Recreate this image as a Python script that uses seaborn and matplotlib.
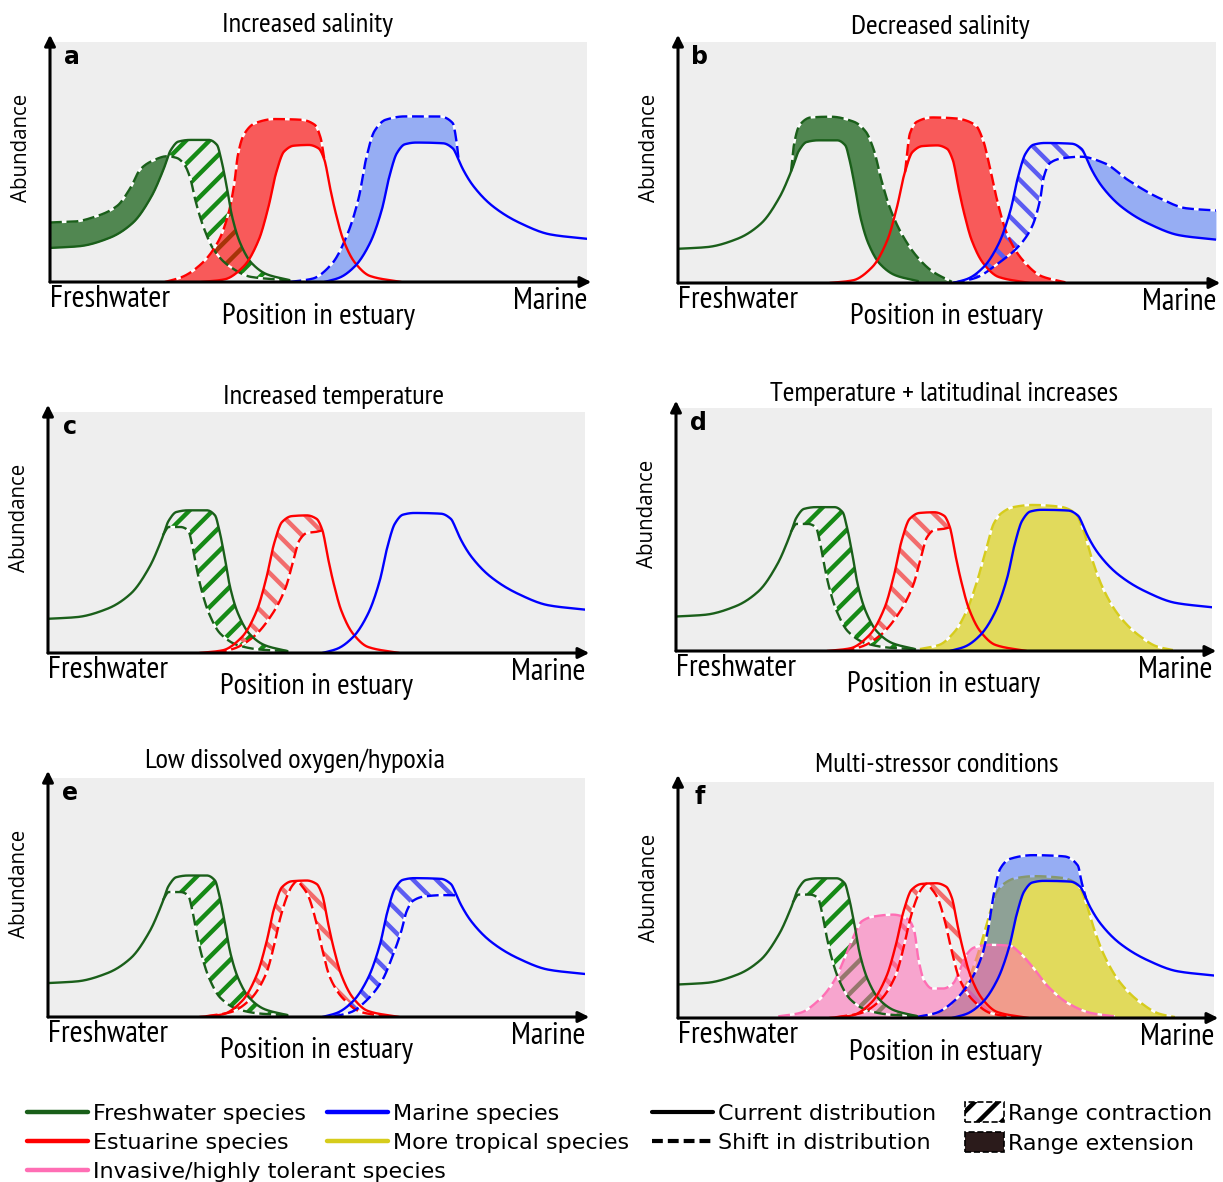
import numpy as np
import matplotlib
matplotlib.use('Agg')
import matplotlib.pyplot as plt
from matplotlib.lines import Line2D
from matplotlib.patches import Patch
import seaborn as sns

# Values: x = position along the estuary (% of panel width),
# y = abundance (% of panel height).

# current distributions (same in every panel)
FW_CUR_X = [0, 5.4, 11.1, 15.4, 18.9, 21.1, 22.5, 23.9, 26.1, 29.6, 31.1, 31.9, 32.9, 33.9, 35.4, 37.5, 40.4, 44.6]
FW_CUR_Y = [14.2, 14.9, 18.4, 24.6, 35.7, 46.7, 55.0, 58.5, 59.2, 59.2, 57.1, 50.9, 39.8, 27.4, 16.3, 8.0, 3.2, 0.8]
EST_CUR_X = [28.2, 32.5, 36.1, 38.9, 40.7, 42.1, 43.6, 45.4, 48.2, 50.0, 51.1, 52.1, 53.2, 54.6, 56.8, 59.6, 65.4]
EST_CUR_Y = [0, 1.1, 6.6, 17.7, 31.5, 45.4, 54.4, 56.8, 57.1, 55.7, 50.9, 39.8, 28.8, 17.7, 8.0, 2.5, 0]
MAR_CUR_X = [51.1, 53.9, 56.8, 59.6, 61.8, 63.2, 64.6, 66.1, 68.2, 73.2, 75.0, 76.1, 76.8, 78.9, 82.5, 87.5, 93.2, 100]
MAR_CUR_Y = [0, 1.8, 6.6, 16.3, 30.2, 44.0, 53.7, 57.4, 58.1, 57.8, 55.7, 50.9, 47.4, 39.8, 31.5, 24.6, 19.8, 18.0]

# a: increased salinity
FW_A_X = [0, 4.6, 8.9, 12.5, 15.0, 16.8, 18.9, 21.8, 23.6, 25.0, 26.1, 27.1, 28.6, 30.4, 33.2, 37.5, 44.6]
FW_A_Y = [24.8, 25.2, 27.6, 31.7, 39.3, 46.9, 50.3, 52.4, 51.7, 49.0, 43.4, 33.8, 22.8, 13.8, 6.9, 2.1, 0.7]
EST_A_X = [21.4, 24.6, 28.2, 31.4, 33.2, 34.3, 35.0, 36.1, 38.2, 41.8, 46.8, 49.3, 50.4, 51.1]
EST_A_Y = [0, 2.1, 7.6, 17.2, 28.3, 40.7, 53.1, 61.4, 66.2, 67.9, 67.6, 65.5, 60.0, 50.9]
MAR_A_X = [44.6, 48.9, 52.5, 55.4, 57.5, 58.9, 60.4, 62.5, 66.1, 72.5, 75.0, 75.7, 76.1]
MAR_A_Y = [0, 1.4, 7.6, 20.0, 35.2, 51.7, 62.8, 67.6, 69.0, 69.0, 66.2, 58.6, 50.9]

# b: decreased salinity
FW_B_X = [21.0, 21.6, 22.6, 24.7, 28.4, 32.7, 34.9, 36.4, 37.8, 39.3, 41.5, 44.4, 47.3, 50.9]
FW_B_Y = [46.2, 58.0, 65.5, 68.7, 69.0, 66.9, 62.8, 55.2, 42.8, 31.7, 20.7, 11.0, 4.8, 0.5]
EST_B_X = [42.2, 43.1, 44.4, 47.3, 51.6, 55.3, 56.7, 57.8, 59.3, 61.1, 64.0, 67.6, 72.0]
EST_B_Y = [46.0, 62.0, 66.9, 68.7, 68.3, 65.5, 59.3, 49.7, 34.5, 20.7, 9.7, 2.8, 0.3]
MAR_B_X = [51.1, 55.3, 59.6, 63.3, 65.8, 67.3, 68.0, 69.1, 71.3, 74.9, 79.3, 83.6, 89.5, 94.5, 100]
MAR_B_Y = [0, 2.1, 8.3, 15.2, 23.4, 34.5, 44.1, 49.7, 51.7, 52.4, 49.7, 42.8, 35.2, 31.0, 30.1]

# c-f: warming / hypoxia / multi-stressor shifts
FW_C_X = [21.4, 22.5, 24.6, 26.1, 26.8, 27.5, 28.6, 30.0, 32.1, 35.4, 39.6, 44.6]
FW_C_Y = [48.9, 52.3, 52.3, 50.9, 45.4, 37.1, 26.0, 16.3, 8.0, 3.2, 1.4, 0.8]
EST_C_X = [31.1, 34.6, 38.2, 41.8, 44.3, 45.7, 46.8, 48.2, 50.0, 51.1]
EST_C_Y = [0, 1.8, 6.6, 16.3, 27.4, 38.5, 46.7, 49.8, 50.3, 50.9]
EST_E_X = [29.4, 34.0, 37.5, 40.6, 42.0, 43.2, 44.6, 45.5, 46.4, 47.2, 48.4, 49.8, 51.0, 52.5, 55.0, 58.4, 62.9]
EST_E_Y = [0.3, 2.0, 7.0, 18.0, 29.0, 41.0, 51.0, 55.0, 56.9, 55.0, 51.0, 41.0, 29.0, 16.6, 7.6, 2.0, 0.3]
MAR_E_X = [52.9, 56.5, 59.3, 62.2, 64.3, 65.8, 66.8, 67.9, 70.0, 73.6, 76.1]
MAR_E_Y = [0, 2.1, 6.9, 15.2, 26.3, 36.0, 44.3, 48.5, 50.4, 51.0, 50.9]
MAR_F_X = [44.4, 48.1, 51.7, 54.6, 56.8, 57.9, 59.0, 60.1, 61.9, 66.2, 72.0, 74.6, 75.3, 76.1]
MAR_F_Y = [0.4, 2.1, 7.6, 16.0, 27.1, 38.2, 53.5, 63.2, 67.4, 69.0, 68.5, 64.6, 57.6, 50.9]
TROP_X = [45.5, 49.1, 52.0, 54.2, 56.0, 57.8, 59.3, 60.7, 62.9, 66.5, 71.6, 74.5, 76.0, 77.5, 79.6, 82.5, 86.2, 89.8, 92.7]
TROP_Y = [0.8, 2.5, 8.0, 16.4, 27.5, 41.4, 52.5, 56.7, 59.2, 60.1, 59.4, 56.7, 49.7, 38.6, 26.1, 15.0, 6.7, 1.8, 0.4]
INV_X = [18.7, 22.7, 26.3, 29.2, 31.4, 33.2, 34.3, 36.5, 40.1, 43.0, 44.1, 44.8, 45.9, 47.4, 49.5, 51.3, 52.8,
         53.9, 55.3, 58.2, 61.9, 64.0, 66.2, 69.1, 72.8, 77.1, 81.5]
INV_Y = [0.7, 2.1, 7.6, 16.0, 27.1, 36.8, 41.0, 43.0, 43.8, 41.7, 36.8, 25.7, 16.0, 12.5, 12.5, 14.6, 21.5,
         27.1, 29.9, 31.0, 30.6, 27.1, 21.5, 13.2, 6.2, 2.1, 0.7]

SPECIES_LABELS = ['Freshwater species', 'Estuarine species', 'Invasive/highly tolerant species']
SPECIES_LABELS2 = ['Marine species', 'More tropical species']
DIST_LABELS = ['Current distribution', 'Shift in distribution']
RANGE_LABELS = ['Range contraction', 'Range extension']

STYLE = {
    'fw': dict(line='#1a5f1a', fill='#005200', alpha=0.66, hatch_color='#168a16', hatch='/'),
    'est': dict(line='#ff0000', fill='#ff0000', alpha=0.62, hatch_color='#f26c6c', hatch='\\'),
    'mar': dict(line='#0000ff', fill='#0040fc', alpha=0.37, hatch_color='#5c5cf2', hatch='\\'),
}
TROP_LINE, TROP_FILL = '#d6cc1c', '#dcd21e'
INV_LINE, INV_FILL = '#ff6eb4', '#ff69b4'

W, H = 1224, 1182
DPI = 70            # low dpi so the hatch stripes get the spacing of the original
K = 100 / DPI       # sizes below are tuned as points at 100 dpi
LW = 1.7 * K
DASH = (0, (5, 2))

PANELS = [
    dict(letter='a', title='Increased salinity', title_xy=(308, 24), box=(50, 42, 587, 282),
         shifts=[('fw', FW_A_X, FW_A_Y), ('est', EST_A_X, EST_A_Y), ('mar', MAR_A_X, MAR_A_Y)]),
    dict(letter='b', title='Decreased salinity', title_xy=(940, 26), box=(678, 42, 1216, 283),
         shifts=[('fw', FW_B_X, FW_B_Y), ('est', EST_B_X, EST_B_Y), ('mar', MAR_B_X, MAR_B_Y)]),
    dict(letter='c', title='Increased temperature', title_xy=(334, 396), box=(48, 412, 585, 653),
         shifts=[('fw', FW_C_X, FW_C_Y), ('est', EST_C_X, EST_C_Y)]),
    dict(letter='d', title='Temperature + latitudinal increases', title_xy=(944, 393), box=(676, 408, 1212, 651),
         shifts=[('fw', FW_C_X, FW_C_Y), ('est', EST_C_X, EST_C_Y)], trop=True),
    dict(letter='e', title='Low dissolved oxygen/hypoxia', title_xy=(295, 760), box=(48, 778, 585, 1017),
         shifts=[('fw', FW_C_X, FW_C_Y), ('est', EST_E_X, EST_E_Y), ('mar', MAR_E_X, MAR_E_Y)]),
    dict(letter='f', title='Multi-stressor conditions', title_xy=(937, 764), box=(678, 782, 1214, 1018),
         shifts=[('fw', FW_C_X, FW_C_Y), ('est', EST_E_X, EST_E_Y), ('mar', MAR_F_X, MAR_F_Y)],
         trop=True, inv=True),
]
CURRENT = {'fw': (FW_CUR_X, FW_CUR_Y), 'est': (EST_CUR_X, EST_CUR_Y), 'mar': (MAR_CUR_X, MAR_CUR_Y)}

GRID = np.linspace(0, 100, 2001)


def smooth(x, y, n=300):
    # monotone cubic through the read points, only to draw a smooth path
    x = np.asarray(x, float)
    y = np.asarray(y, float)
    h = np.diff(x)
    d = np.diff(y) / h
    m = np.zeros_like(y)
    m[0], m[-1] = d[0], d[-1]
    for k in range(1, len(x) - 1):
        if d[k - 1] * d[k] > 0:
            w1 = 2 * h[k] + h[k - 1]
            w2 = h[k] + 2 * h[k - 1]
            m[k] = (w1 + w2) / (w1 / d[k - 1] + w2 / d[k])
    xs = np.linspace(x[0], x[-1], n)
    i = np.clip(np.searchsorted(x, xs, side='right') - 1, 0, len(x) - 2)
    t = (xs - x[i]) / h[i]
    ys = ((2 * t**3 - 3 * t**2 + 1) * y[i] + (t**3 - 2 * t**2 + t) * h[i] * m[i]
          + (-2 * t**3 + 3 * t**2) * y[i + 1] + (t**3 - t**2) * h[i] * m[i + 1])
    return xs, ys


def on_grid(x, y):
    xs, ys = smooth(x, y)
    return np.interp(GRID, xs, ys, left=np.nan, right=np.nan)


def line(ax, x, y, color, dashed=False, z=6):
    xs, ys = smooth(x, y)
    kw = dict(linestyle=DASH, gapcolor='white') if dashed else {}
    sns.lineplot(x=xs, y=ys, ax=ax, color=color, lw=LW, estimator=None, sort=False, zorder=z, **kw)


def fig_text(px, py, s, size, **kw):
    fig.text(px / W, 1 - py / H, s, fontsize=size * K, **kw)


sns.set_theme(style='white', rc={'axes.facecolor': '#eeeeee', 'hatch.linewidth': 3.2 * K, 'text.color': 'black'})
plt.rcParams['font.family'] = ['DejaVu Sans']
NARROW = ['PT Sans Narrow', 'Fira Sans Condensed', 'Roboto Condensed', 'Sofia Sans Semi Condensed', 'DejaVu Sans']

fig = plt.figure(figsize=(W / DPI, H / DPI), dpi=DPI)

for p in PANELS:
    l, t, r, b = p['box']
    ax = fig.add_axes([l / W, 1 - b / H, (r - l) / W, (b - t) / H])
    ax.set_xlim(0, 100)
    ax.set_ylim(0, 100)
    ax.set_xticks([])
    ax.set_yticks([])
    for s in ax.spines.values():
        s.set_visible(False)

    if p.get('trop'):
        ax.fill_between(GRID, 0, np.nan_to_num(on_grid(TROP_X, TROP_Y)), color=TROP_FILL, alpha=0.7, lw=0, zorder=1)

    for key, sx, sy in p['shifts']:
        st = STYLE[key]
        cur = np.nan_to_num(on_grid(*CURRENT[key]))
        new = on_grid(sx, sy)
        new = np.where(np.isnan(new), cur, new)
        ax.fill_between(GRID, new, cur, where=cur > new + 0.25, interpolate=True,
                        facecolor='none', edgecolor=st['hatch_color'], hatch=st['hatch'], lw=0, zorder=2)
        ax.fill_between(GRID, cur, new, where=new > cur + 0.25, interpolate=True,
                        color=st['fill'], alpha=st['alpha'], lw=0, zorder=2)

    if p.get('trop'):
        line(ax, TROP_X, TROP_Y, TROP_LINE, dashed=True, z=1.5)
    if p.get('inv'):
        ax.fill_between(GRID, 0, np.nan_to_num(on_grid(INV_X, INV_Y)), color=INV_FILL, alpha=0.55, lw=0, zorder=3)
        line(ax, INV_X, INV_Y, INV_LINE, dashed=True, z=4)
    for key, sx, sy in p['shifts']:
        line(ax, sx, sy, STYLE[key]['line'], dashed=True)
    for key, (cx, cy) in CURRENT.items():
        line(ax, cx, cy, STYLE[key]['line'])

    # axis arrows
    arrow = dict(arrowstyle='-|>', lw=2.2 * K, color='black', mutation_scale=16 * K, shrinkA=0, shrinkB=0)
    ax.annotate('', xy=(1.008, 0), xytext=(0, 0), xycoords='axes fraction', arrowprops=arrow,
                annotation_clip=False, zorder=10)
    ax.annotate('', xy=(0, 1.03), xytext=(0, 0), xycoords='axes fraction', arrowprops=arrow,
                annotation_clip=False, zorder=10)

    tx, ty = p['title_xy']
    fig_text(tx, ty + 1, p['title'], 20.5, ha='center', va='center', family=NARROW)
    fig_text(l + 22, t + 15, p['letter'], 17, ha='center', va='center', fontweight='bold')
    fig_text(l - 28, t + 106, 'Abundance', 14.8, ha='center', va='center', rotation=90,
             family=['Open Sans', 'DejaVu Sans'])
    fig_text(l, b + 17, 'Freshwater', 22.5, ha='left', va='center', family=NARROW)
    fig_text(r + 1, b + 19, 'Marine', 22.5, ha='right', va='center', family=NARROW)
    fig_text((l + r) / 2, b + 34, 'Position in estuary', 21.8, ha='center', va='center', family=NARROW)

# legends
LEG_KW = dict(loc='upper left', frameon=False, borderpad=0, borderaxespad=0, handletextpad=0.2,
              labelspacing=0.4, fontsize=16 * K)
TOP = 1 - 1104 / H
fig.legend([Line2D([], [], color=c, lw=3.2 * K) for c in (STYLE['fw']['line'], STYLE['est']['line'], INV_LINE)],
           SPECIES_LABELS, bbox_to_anchor=(27 / W, TOP), handlelength=2.75, **LEG_KW)
fig.legend([Line2D([], [], color=c, lw=3.2 * K) for c in (STYLE['mar']['line'], TROP_LINE)],
           SPECIES_LABELS2, bbox_to_anchor=(327 / W, TOP), handlelength=2.75, **LEG_KW)
fig.legend([Line2D([], [], color='black', lw=3 * K),
            Line2D([], [], color='black', lw=3 * K, linestyle=(0, (2.6, 1.2)))],
           DIST_LABELS, bbox_to_anchor=(652 / W, TOP), handlelength=2.75, **LEG_KW)
fig.legend([Patch(facecolor='white', edgecolor='black', hatch='/', linestyle='--', lw=1.2 * K),
            Patch(facecolor='#2b1b1b', edgecolor='black', linestyle='--', lw=1.2 * K)],
           RANGE_LABELS, bbox_to_anchor=(965 / W, 1 - 1102 / H), handlelength=1.75, handleheight=1.0, **LEG_KW)

fig.savefig('out.png', dpi=DPI)
